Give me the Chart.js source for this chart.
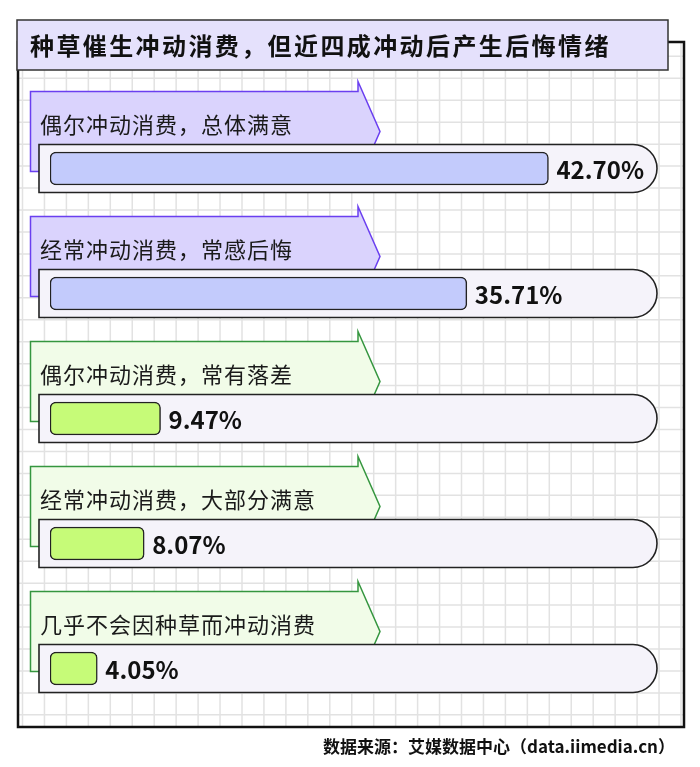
<!DOCTYPE html>
<html>
<head>
<meta charset="utf-8">
<script src="https://cdn.jsdelivr.net/npm/chart.js@4.4.1/dist/chart.umd.min.js"></script>
<style>
  html, body { margin: 0; padding: 0; background: #fff; }
  canvas { display: block; }
</style>
</head>
<body>
<canvas id="chart" width="700" height="767"></canvas>
<script>
const title = '种草催生冲动消费，但近四成冲动后产生后悔情绪';
const source = '数据来源：艾媒数据中心（data.iimedia.cn）';
const categories = ['偶尔冲动消费，总体满意', '经常冲动消费，常感后悔', '偶尔冲动消费，常有落差', '经常冲动消费，大部分满意', '几乎不会因种草而冲动消费'];
const shares = [42.70, 35.71, 9.47, 8.07, 4.05];
const tones = ['purple', 'purple', 'green', 'green', 'green'];

const palette = {
    purple: { bar: '#c3cbfc', flag: '#dad3fd', flagLine: '#6a3ff0' },
    green: { bar: '#c6fb78', flag: '#f1fce8', flagLine: '#35963f' }
};
const FONT = "'Noto Sans CJK SC', 'Noto Sans', sans-serif";

// frame, grid paper and title box
const backdrop = {
    id: 'backdrop',
    beforeDraw(chart) {
        const ctx = chart.ctx;
        const fx = 18, fy = 42, fw = 666, fh = 685;
        ctx.save();
        ctx.fillStyle = '#fff';
        ctx.fillRect(0, 0, chart.width, chart.height);
        ctx.beginPath();
        ctx.rect(fx, fy, fw, fh);
        ctx.clip();
        ctx.strokeStyle = '#e2e2e2';
        ctx.lineWidth = 1.5;
        const step = 21.95;
        for (let x = 22.5; x < fx + fw; x += step) {
            ctx.beginPath();
            ctx.moveTo(x, fy);
            ctx.lineTo(x, fy + fh);
            ctx.stroke();
        }
        for (let y = 78.3 - 2 * step; y < fy + fh; y += step) {
            ctx.beginPath();
            ctx.moveTo(fx, y);
            ctx.lineTo(fx + fw, y);
            ctx.stroke();
        }
        ctx.restore();

        ctx.save();
        ctx.strokeStyle = '#111';
        ctx.lineWidth = 2.5;
        ctx.strokeRect(fx, fy, fw, fh);

        ctx.fillStyle = '#e5e1fc';
        ctx.fillRect(17, 20, 651, 50);
        ctx.strokeStyle = '#333';
        ctx.lineWidth = 1.5;
        ctx.strokeRect(17, 20, 651, 50);

        ctx.fillStyle = '#111';
        ctx.font = 'bold 24px ' + FONT;
        ctx.letterSpacing = '2.4px';
        ctx.textBaseline = 'middle';
        ctx.fillText(title, 30, 46);

        ctx.letterSpacing = '0px';
        ctx.font = 'bold 17px ' + FONT;
        ctx.textAlign = 'right';
        ctx.fillText(source, 675, 747);
        ctx.restore();
    }
};

// arrow banner + pill track behind each bar
const rows = {
    id: 'rows',
    beforeDatasetsDraw(chart) {
        const ctx = chart.ctx;
        const meta = chart.getDatasetMeta(0);
        const area = chart.chartArea;
        meta.data.forEach((bar, i) => {
            const c = bar.y;
            const p = palette[tones[i]];
            ctx.save();
            // banner
            ctx.beginPath();
            ctx.moveTo(30.5, c - 77);
            ctx.lineTo(358, c - 77);
            ctx.lineTo(358, c - 87);
            ctx.lineTo(380, c - 37);
            ctx.lineTo(358, c + 13);
            ctx.lineTo(358, c + 3);
            ctx.lineTo(30.5, c + 3);
            ctx.closePath();
            ctx.fillStyle = p.flag;
            ctx.fill();
            ctx.strokeStyle = p.flagLine;
            ctx.lineWidth = 1.5;
            ctx.stroke();

            ctx.fillStyle = '#1a1a1a';
            ctx.font = '22px ' + FONT;
            ctx.letterSpacing = '1px';
            ctx.textBaseline = 'middle';
            ctx.fillText(categories[i], 40, c - 44);

            // track
            const left = 39, right = area.right, top = c - 24, bot = c + 24, r = 24;
            ctx.beginPath();
            ctx.moveTo(left, top);
            ctx.lineTo(right - r, top);
            ctx.arc(right - r, c, r, -Math.PI / 2, Math.PI / 2);
            ctx.lineTo(left, bot);
            ctx.closePath();
            ctx.fillStyle = '#f5f3fa';
            ctx.fill();
            ctx.strokeStyle = '#222';
            ctx.lineWidth = 1.6;
            ctx.stroke();
            ctx.restore();
        });
    },
    afterDatasetsDraw(chart) {
        const ctx = chart.ctx;
        const meta = chart.getDatasetMeta(0);
        ctx.save();
        ctx.fillStyle = '#111';
        ctx.font = 'bold 24px ' + FONT;
        ctx.textBaseline = 'middle';
        meta.data.forEach((bar, i) => {
            ctx.fillText(shares[i].toFixed(2) + '%', bar.x + 8, bar.y + 1);
        });
        ctx.restore();
    }
};

new Chart(document.getElementById('chart'), {
    type: 'bar',
    data: {
        labels: categories,
        datasets: [{
            data: shares,
            backgroundColor: tones.map(t => palette[t].bar),
            borderColor: '#222',
            borderWidth: 1.5,
            borderRadius: 6,
            borderSkipped: false,
            barThickness: 33
        }]
    },
    options: {
        indexAxis: 'y',
        responsive: false,
        animation: false,
        layout: {
            padding: { left: 50, right: 43, top: 106, bottom: 36 }
        },
        plugins: {
            legend: { display: false },
            tooltip: { enabled: false }
        },
        scales: {
            x: { display: false, min: 0, max: 52 },
            y: { display: false }
        }
    },
    plugins: [backdrop, rows]
});
</script>
</body>
</html>
